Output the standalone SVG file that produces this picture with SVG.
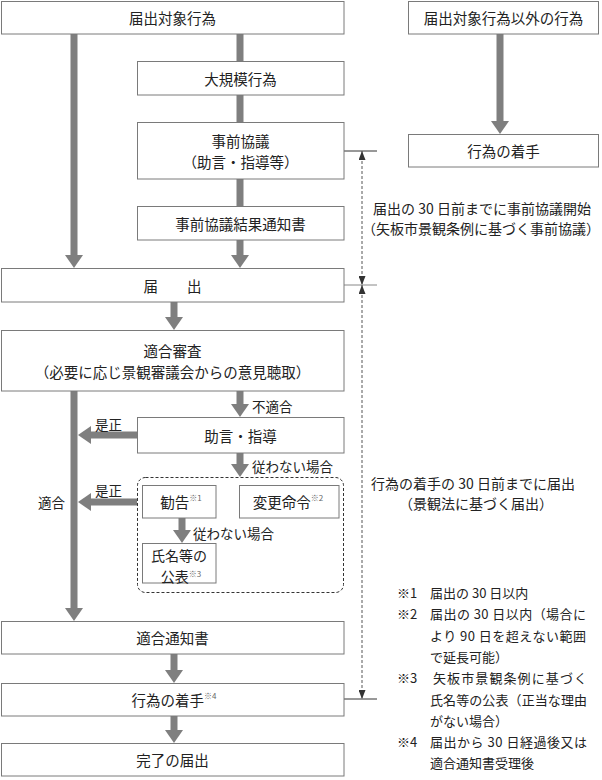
<svg xmlns="http://www.w3.org/2000/svg" width="602" height="780" viewBox="0 0 602 780">
<style>
.box{fill:#fff;stroke:#7a7a7a;stroke-width:1}
.t{font-family:"Noto Sans CJK JP","Noto Sans",sans-serif;font-size:14.5px;fill:#222;text-anchor:middle;dominant-baseline:central}
.l{font-family:"Noto Sans CJK JP","Noto Sans",sans-serif;font-size:13.5px;fill:#222;dominant-baseline:central}
.n{font-family:"Noto Sans CJK JP","Noto Sans",sans-serif;font-size:13px;fill:#222;dominant-baseline:central}
.sup{font-size:8px;fill:#666}
.shaft{stroke:#7f7f7f;stroke-width:7;fill:none}
.arr{stroke:#7f7f7f;stroke-width:7;fill:none;marker-end:url(#big)}
.dash{stroke:#555;stroke-width:1;stroke-dasharray:3 2;fill:none;marker-start:url(#small);marker-end:url(#small)}
.tick{stroke:#333;stroke-width:1}
</style>
<defs>
<marker id="big" markerUnits="userSpaceOnUse" markerWidth="14" markerHeight="18" refX="3" refY="9" orient="auto" viewBox="0 0 14 18">
<path d="M0,0 L13,9 L0,18 Z" fill="#7f7f7f"/>
</marker>
<marker id="small" markerUnits="userSpaceOnUse" markerWidth="9" markerHeight="7" refX="9" refY="3.5" orient="auto-start-reverse" viewBox="0 0 9 7">
<path d="M0,0 L9,3.5 L0,7 Z" fill="#333"/>
</marker>
</defs>

<g id="connectors">
<line class="arr" x1="74" y1="34" x2="74" y2="258"/>
<line class="shaft" x1="240" y1="34" x2="240" y2="61"/>
<line class="shaft" x1="240" y1="95" x2="240" y2="122"/>
<line class="shaft" x1="240" y1="179" x2="240" y2="206"/>
<line class="arr" x1="240" y1="240" x2="240" y2="258"/>
<line class="arr" x1="500" y1="34" x2="500" y2="124"/>
<line class="arr" x1="174" y1="302" x2="174" y2="320"/>
<line class="arr" x1="74" y1="391" x2="74" y2="611"/>
<line class="arr" x1="240" y1="391" x2="240" y2="407"/>
<line class="arr" x1="240" y1="453" x2="240" y2="467"/>
<line class="arr" x1="182" y1="518" x2="182" y2="533"/>
<line class="arr" x1="137" y1="435" x2="88" y2="435"/>
<line class="arr" x1="137" y1="502" x2="88" y2="502"/>
<line class="arr" x1="174" y1="654" x2="174" y2="673"/>
<line class="arr" x1="174" y1="716" x2="174" y2="733"/>
<line class="tick" x1="344" y1="151" x2="377" y2="151"/>
<line class="tick" x1="344" y1="285" x2="377" y2="285" style="stroke:#888"/>
<line class="tick" x1="344" y1="699" x2="377" y2="699"/>
<line class="dash" x1="362" y1="151" x2="362" y2="285"/>
<line class="dash" x1="362" y1="285" x2="362" y2="699"/>
<text class="l" x="252" y="406">不適合</text>
<text class="l" x="252" y="466">従わない場合</text>
<text class="l" x="193" y="533">従わない場合</text>
<text class="l" x="95" y="424">是正</text>
<text class="l" x="95" y="490">是正</text>
<text class="l" x="38" y="502">適合</text>
</g>

<g id="n-todokede-taisho"><rect class="box" x="1.5" y="1.5" width="342.5" height="32.5"/><text class="t" x="172.5" y="17.5">届出対象行為</text></g>
<g id="n-daikibo"><rect class="box" x="137.5" y="61.5" width="206.5" height="33.5"/><text class="t" x="240.5" y="78">大規模行為</text></g>
<g id="n-jizen"><rect class="box" x="137.5" y="122.5" width="206.5" height="56.5"/><text class="t" x="240.5" y="140.5">事前協議</text><text class="t" x="240.5" y="161.5">（助言・指導等）</text></g>
<g id="n-kekka"><rect class="box" x="137.5" y="206.5" width="206.5" height="33.5"/><text class="t" x="240.5" y="223">事前協議結果通知書</text></g>
<g id="n-todokede"><rect class="box" x="1.5" y="268.5" width="342.5" height="33.5"/><text class="t" x="172.5" y="285">届　　出</text></g>
<g id="n-igai"><rect class="box" x="408.5" y="1.5" width="190" height="32.5"/><text class="t" x="503.5" y="17.5">届出対象行為以外の行為</text></g>
<g id="n-chakushu-r"><rect class="box" x="408.5" y="134.5" width="190" height="32.5"/><text class="t" x="503.5" y="150.5">行為の着手</text></g>
<g id="n-tekigo-shinsa"><rect class="box" x="1.5" y="330.5" width="342.5" height="60.5"/><text class="t" x="172.5" y="350">適合審査</text><text class="t" x="172.5" y="371">（必要に応じ景観審議会からの意見聴取）</text></g>
<g id="n-jogen"><rect class="box" x="137.5" y="417.5" width="206.5" height="35.5"/><text class="t" x="240.5" y="435">助言・指導</text></g>
<g id="n-group"><rect x="137.5" y="477.5" width="206" height="115" rx="8" fill="none" stroke="#333" stroke-width="1" stroke-dasharray="3 2"/></g>
<g id="n-kankoku"><rect class="box" x="142.5" y="485.5" width="73.5" height="32.5"/><text class="t" x="181" y="501.5">勧告<tspan class="sup" dy="-5">※1</tspan></text></g>
<g id="n-henko"><rect class="box" x="239.5" y="485.5" width="99.5" height="32.5"/><text class="t" x="288" y="501.5">変更命令<tspan class="sup" dy="-5">※2</tspan></text></g>
<g id="n-kohyo"><rect class="box" x="142.5" y="543.5" width="73.5" height="39.5"/><text class="t" style="font-size:14px" x="179" y="555">氏名等の</text><text class="t" style="font-size:14px" x="181" y="576">公表<tspan class="sup" dy="-3.5">※3</tspan></text></g>
<g id="n-tsuchi"><rect class="box" x="1.5" y="621.5" width="342.5" height="32.5"/><text class="t" x="172.5" y="637.5">適合通知書</text></g>
<g id="n-chakushu"><rect class="box" x="1.5" y="683.5" width="342.5" height="32.5"/><text class="t" x="174" y="699.5">行為の着手<tspan class="sup" dy="-5">※4</tspan></text></g>
<g id="n-kanryo"><rect class="box" x="1.5" y="743.5" width="342.5" height="32.5"/><text class="t" x="172.5" y="759.5">完了の届出</text></g>

<g id="notes">
<text class="t" style="font-size:14px" x="482" y="207.5">届出の 30 日前までに事前協議開始</text>
<text class="t" style="font-size:14px" x="481" y="228">（矢板市景観条例に基づく事前協議）</text>
<text class="t" style="font-size:14px" x="473" y="483">行為の着手の 30 日前までに届出</text>
<text class="t" style="font-size:14px" x="476" y="503">（景観法に基づく届出）</text>
<text class="n" x="397" y="592">※1</text><text class="n" x="430" y="592">届出の 30 日以内</text>
<text class="n" x="397" y="613">※2</text><text class="n" x="430" y="613" textLength="156" lengthAdjust="spacing">届出の 30 日以内（場合に</text>
<text class="n" x="430" y="635" textLength="156" lengthAdjust="spacing">より 90 日を超えない範囲</text>
<text class="n" x="430" y="656">で延長可能）</text>
<text class="n" x="397" y="677">※3</text><text class="n" x="433" y="677" textLength="154" lengthAdjust="spacing">矢板市景観条例に基づく</text>
<text class="n" x="430" y="699" textLength="157" lengthAdjust="spacing">氏名等の公表（正当な理由</text>
<text class="n" x="430" y="720">がない場合）</text>
<text class="n" x="397" y="741">※4</text><text class="n" x="430" y="741" textLength="157" lengthAdjust="spacing">届出から 30 日経過後又は</text>
<text class="n" x="430" y="762">適合通知書受理後</text>
</g>
</svg>
